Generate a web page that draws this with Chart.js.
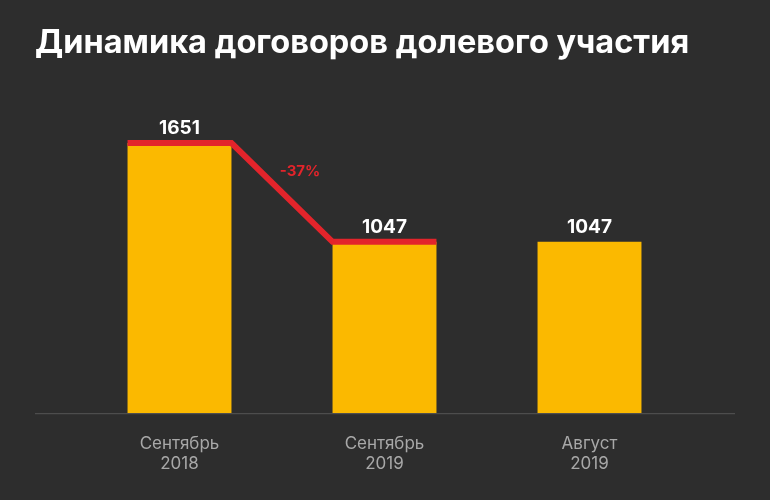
<!DOCTYPE html>
<html>
<head>
<meta charset="utf-8">
<script src="https://cdn.jsdelivr.net/npm/chart.js@4"></script>
<style>
  body { margin: 0; background: #2d2d2d; }
  #wrap { position: relative; width: 770px; height: 500px; }
  #title { position: absolute; left: 35px; top: 22px; color: #fff; font: bold 32.5px Inter, "Noto Sans", sans-serif; letter-spacing: 0px; }
</style>
</head>
<body>
<div id="wrap">
  <div id="title">Динамика договоров долевого участия</div>
  <canvas id="c" width="770" height="500"></canvas>
</div>
<script>
// Данные
const categories = [['Сентябрь', '2018'], ['Сентябрь', '2019'], ['Август', '2019']];
const values = [1651, 1047, 1047];
const changeLabel = '-37%';

// Подписи, красная линия и базовая линия
const overlay = {
    id: 'overlay',
    afterDatasetsDraw(chart) {
        const ctx = chart.ctx;
        const bars = chart.getDatasetMeta(0).data;
        const area = chart.chartArea;
        ctx.save();
        // базовая линия
        ctx.strokeStyle = '#555';
        ctx.lineWidth = 1;
        ctx.beginPath();
        ctx.moveTo(35, area.bottom + 0.5);
        ctx.lineTo(735, area.bottom + 0.5);
        ctx.stroke();
        // красная линия
        const b0 = bars[0], b1 = bars[1];
        const h0 = b0.width / 2, h1 = b1.width / 2;
        ctx.strokeStyle = '#e3242b';
        ctx.lineWidth = 6;
        ctx.lineJoin = 'miter';
        ctx.beginPath();
        ctx.moveTo(b0.x - h0, b0.y);
        ctx.lineTo(b0.x + h0, b0.y);
        ctx.lineTo(b1.x - h1, b1.y);
        ctx.lineTo(b1.x + h1, b1.y);
        ctx.stroke();
        // значения
        ctx.fillStyle = '#fff';
        ctx.font = 'bold 19px Inter, "Noto Sans", sans-serif';
        ctx.textAlign = 'center';
        ctx.textBaseline = 'bottom';
        bars.forEach((b, i) => ctx.fillText(values[i], b.x, b.y - 5));
        // изменение
        ctx.fillStyle = '#e3242b';
        ctx.font = 'bold 15px Inter, "Noto Sans", sans-serif';
        ctx.textBaseline = 'middle';
        ctx.fillText(changeLabel, (b0.x + b1.x) / 2 + 18, 171);
        ctx.restore();
    }
};

new Chart(document.getElementById('c'), {
    type: 'bar',
    data: {
        labels: categories,
        datasets: [{
            data: values,
            backgroundColor: '#fbb900',
            barPercentage: 0.507,
            categoryPercentage: 1
        }]
    },
    options: {
        responsive: false,
        animation: false,
        layout: { padding: { top: 100, left: 77, right: 78, bottom: 14 } },
        plugins: { legend: { display: false }, tooltip: { enabled: false } },
        scales: {
            y: { display: false, min: 0, max: 1914 },
            x: {
                grid: { display: false },
                border: { display: false },
                ticks: {
                    color: '#a8a8a8',
                    font: { size: 17, family: 'Inter, "Noto Sans", sans-serif' },
                    padding: 12
                }
            }
        }
    },
    plugins: [overlay]
});
</script>
</body>
</html>
